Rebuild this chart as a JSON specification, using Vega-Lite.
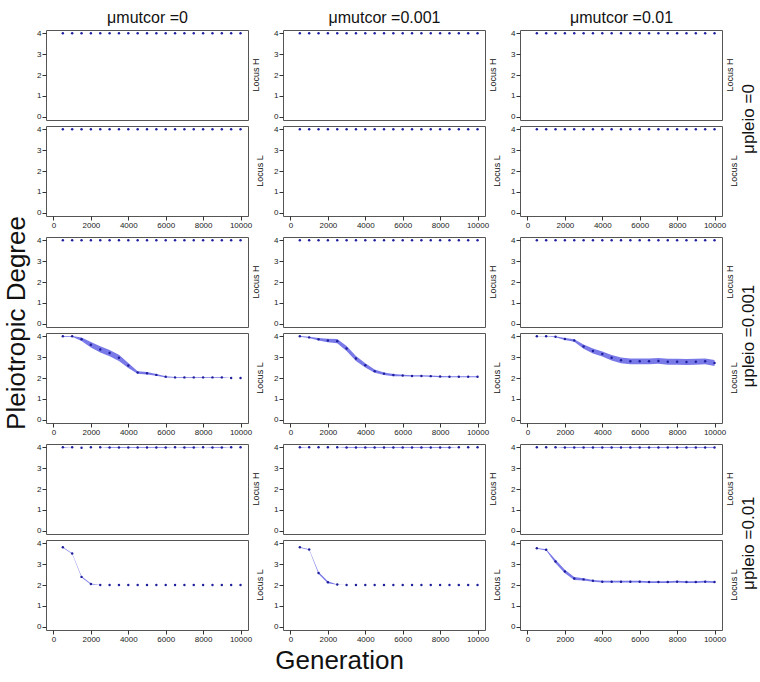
{
"$schema": "https://vega.github.io/schema/vega-lite/v6.json",
"padding": {"left": 4, "top": 8, "right": 3, "bottom": 3},
"title": {"text": "Pleiotropic Degree", "orient": "left", "fontSize": 26, "anchor": "middle", "offset": 6, "dx": 18},
"datasets": {
"p0_m0_H": [{"g":500,"y":4,"lo":4,"hi":4},{"g":1000,"y":4,"lo":4,"hi":4},{"g":1500,"y":4,"lo":4,"hi":4},{"g":2000,"y":4,"lo":4,"hi":4},{"g":2500,"y":4,"lo":4,"hi":4},{"g":3000,"y":4,"lo":4,"hi":4},{"g":3500,"y":4,"lo":4,"hi":4},{"g":4000,"y":4,"lo":4,"hi":4},{"g":4500,"y":4,"lo":4,"hi":4},{"g":5000,"y":4,"lo":4,"hi":4},{"g":5500,"y":4,"lo":4,"hi":4},{"g":6000,"y":4,"lo":4,"hi":4},{"g":6500,"y":4,"lo":4,"hi":4},{"g":7000,"y":4,"lo":4,"hi":4},{"g":7500,"y":4,"lo":4,"hi":4},{"g":8000,"y":4,"lo":4,"hi":4},{"g":8500,"y":4,"lo":4,"hi":4},{"g":9000,"y":4,"lo":4,"hi":4},{"g":9500,"y":4,"lo":4,"hi":4},{"g":10000,"y":4,"lo":4,"hi":4}],
"p0_m0_L": [{"g":500,"y":4,"lo":4,"hi":4},{"g":1000,"y":4,"lo":4,"hi":4},{"g":1500,"y":4,"lo":4,"hi":4},{"g":2000,"y":4,"lo":4,"hi":4},{"g":2500,"y":4,"lo":4,"hi":4},{"g":3000,"y":4,"lo":4,"hi":4},{"g":3500,"y":4,"lo":4,"hi":4},{"g":4000,"y":4,"lo":4,"hi":4},{"g":4500,"y":4,"lo":4,"hi":4},{"g":5000,"y":4,"lo":4,"hi":4},{"g":5500,"y":4,"lo":4,"hi":4},{"g":6000,"y":4,"lo":4,"hi":4},{"g":6500,"y":4,"lo":4,"hi":4},{"g":7000,"y":4,"lo":4,"hi":4},{"g":7500,"y":4,"lo":4,"hi":4},{"g":8000,"y":4,"lo":4,"hi":4},{"g":8500,"y":4,"lo":4,"hi":4},{"g":9000,"y":4,"lo":4,"hi":4},{"g":9500,"y":4,"lo":4,"hi":4},{"g":10000,"y":4,"lo":4,"hi":4}],
"p0_m1_H": [{"g":500,"y":4,"lo":4,"hi":4},{"g":1000,"y":4,"lo":4,"hi":4},{"g":1500,"y":4,"lo":4,"hi":4},{"g":2000,"y":4,"lo":4,"hi":4},{"g":2500,"y":4,"lo":4,"hi":4},{"g":3000,"y":4,"lo":4,"hi":4},{"g":3500,"y":4,"lo":4,"hi":4},{"g":4000,"y":4,"lo":4,"hi":4},{"g":4500,"y":4,"lo":4,"hi":4},{"g":5000,"y":4,"lo":4,"hi":4},{"g":5500,"y":4,"lo":4,"hi":4},{"g":6000,"y":4,"lo":4,"hi":4},{"g":6500,"y":4,"lo":4,"hi":4},{"g":7000,"y":4,"lo":4,"hi":4},{"g":7500,"y":4,"lo":4,"hi":4},{"g":8000,"y":4,"lo":4,"hi":4},{"g":8500,"y":4,"lo":4,"hi":4},{"g":9000,"y":4,"lo":4,"hi":4},{"g":9500,"y":4,"lo":4,"hi":4},{"g":10000,"y":4,"lo":4,"hi":4}],
"p0_m1_L": [{"g":500,"y":4,"lo":4,"hi":4},{"g":1000,"y":4,"lo":4,"hi":4},{"g":1500,"y":4,"lo":4,"hi":4},{"g":2000,"y":4,"lo":4,"hi":4},{"g":2500,"y":4,"lo":4,"hi":4},{"g":3000,"y":4,"lo":4,"hi":4},{"g":3500,"y":4,"lo":4,"hi":4},{"g":4000,"y":4,"lo":4,"hi":4},{"g":4500,"y":4,"lo":4,"hi":4},{"g":5000,"y":4,"lo":4,"hi":4},{"g":5500,"y":4,"lo":4,"hi":4},{"g":6000,"y":4,"lo":4,"hi":4},{"g":6500,"y":4,"lo":4,"hi":4},{"g":7000,"y":4,"lo":4,"hi":4},{"g":7500,"y":4,"lo":4,"hi":4},{"g":8000,"y":4,"lo":4,"hi":4},{"g":8500,"y":4,"lo":4,"hi":4},{"g":9000,"y":4,"lo":4,"hi":4},{"g":9500,"y":4,"lo":4,"hi":4},{"g":10000,"y":4,"lo":4,"hi":4}],
"p0_m2_H": [{"g":500,"y":4,"lo":4,"hi":4},{"g":1000,"y":4,"lo":4,"hi":4},{"g":1500,"y":4,"lo":4,"hi":4},{"g":2000,"y":4,"lo":4,"hi":4},{"g":2500,"y":4,"lo":4,"hi":4},{"g":3000,"y":4,"lo":4,"hi":4},{"g":3500,"y":4,"lo":4,"hi":4},{"g":4000,"y":4,"lo":4,"hi":4},{"g":4500,"y":4,"lo":4,"hi":4},{"g":5000,"y":4,"lo":4,"hi":4},{"g":5500,"y":4,"lo":4,"hi":4},{"g":6000,"y":4,"lo":4,"hi":4},{"g":6500,"y":4,"lo":4,"hi":4},{"g":7000,"y":4,"lo":4,"hi":4},{"g":7500,"y":4,"lo":4,"hi":4},{"g":8000,"y":4,"lo":4,"hi":4},{"g":8500,"y":4,"lo":4,"hi":4},{"g":9000,"y":4,"lo":4,"hi":4},{"g":9500,"y":4,"lo":4,"hi":4},{"g":10000,"y":4,"lo":4,"hi":4}],
"p0_m2_L": [{"g":500,"y":4,"lo":4,"hi":4},{"g":1000,"y":4,"lo":4,"hi":4},{"g":1500,"y":4,"lo":4,"hi":4},{"g":2000,"y":4,"lo":4,"hi":4},{"g":2500,"y":4,"lo":4,"hi":4},{"g":3000,"y":4,"lo":4,"hi":4},{"g":3500,"y":4,"lo":4,"hi":4},{"g":4000,"y":4,"lo":4,"hi":4},{"g":4500,"y":4,"lo":4,"hi":4},{"g":5000,"y":4,"lo":4,"hi":4},{"g":5500,"y":4,"lo":4,"hi":4},{"g":6000,"y":4,"lo":4,"hi":4},{"g":6500,"y":4,"lo":4,"hi":4},{"g":7000,"y":4,"lo":4,"hi":4},{"g":7500,"y":4,"lo":4,"hi":4},{"g":8000,"y":4,"lo":4,"hi":4},{"g":8500,"y":4,"lo":4,"hi":4},{"g":9000,"y":4,"lo":4,"hi":4},{"g":9500,"y":4,"lo":4,"hi":4},{"g":10000,"y":4,"lo":4,"hi":4}],
"p1_m0_H": [{"g":500,"y":4,"lo":4,"hi":4},{"g":1000,"y":4,"lo":4,"hi":4},{"g":1500,"y":4,"lo":4,"hi":4},{"g":2000,"y":4,"lo":4,"hi":4},{"g":2500,"y":4,"lo":4,"hi":4},{"g":3000,"y":4,"lo":4,"hi":4},{"g":3500,"y":4,"lo":4,"hi":4},{"g":4000,"y":4,"lo":4,"hi":4},{"g":4500,"y":4,"lo":4,"hi":4},{"g":5000,"y":4,"lo":4,"hi":4},{"g":5500,"y":4,"lo":4,"hi":4},{"g":6000,"y":4,"lo":4,"hi":4},{"g":6500,"y":4,"lo":4,"hi":4},{"g":7000,"y":4,"lo":4,"hi":4},{"g":7500,"y":4,"lo":4,"hi":4},{"g":8000,"y":4,"lo":4,"hi":4},{"g":8500,"y":4,"lo":4,"hi":4},{"g":9000,"y":4,"lo":4,"hi":4},{"g":9500,"y":4,"lo":4,"hi":4},{"g":10000,"y":4,"lo":4,"hi":4}],
"p1_m0_L": [{"g":500,"y":4,"lo":3.98,"hi":4.02},{"g":1000,"y":4,"lo":3.98,"hi":4.02},{"g":1500,"y":3.86,"lo":3.78,"hi":3.94},{"g":2000,"y":3.6,"lo":3.47,"hi":3.73},{"g":2500,"y":3.37,"lo":3.22,"hi":3.52},{"g":3000,"y":3.2,"lo":3.05,"hi":3.35},{"g":3500,"y":2.97,"lo":2.82,"hi":3.12},{"g":4000,"y":2.6,"lo":2.48,"hi":2.72},{"g":4500,"y":2.26,"lo":2.2,"hi":2.32},{"g":5000,"y":2.23,"lo":2.17,"hi":2.29},{"g":5500,"y":2.15,"lo":2.11,"hi":2.19},{"g":6000,"y":2.06,"lo":2.03,"hi":2.09},{"g":6500,"y":2.03,"lo":2.01,"hi":2.05},{"g":7000,"y":2.03,"lo":2.01,"hi":2.05},{"g":7500,"y":2.03,"lo":2.01,"hi":2.05},{"g":8000,"y":2.03,"lo":2.01,"hi":2.05},{"g":8500,"y":2.03,"lo":2.01,"hi":2.05},{"g":9000,"y":2.03,"lo":2.01,"hi":2.05},{"g":9500,"y":2,"lo":2,"hi":2},{"g":10000,"y":2,"lo":2,"hi":2}],
"p1_m1_H": [{"g":500,"y":4,"lo":4,"hi":4},{"g":1000,"y":4,"lo":4,"hi":4},{"g":1500,"y":4,"lo":4,"hi":4},{"g":2000,"y":4,"lo":4,"hi":4},{"g":2500,"y":4,"lo":4,"hi":4},{"g":3000,"y":4,"lo":4,"hi":4},{"g":3500,"y":4,"lo":4,"hi":4},{"g":4000,"y":4,"lo":4,"hi":4},{"g":4500,"y":4,"lo":4,"hi":4},{"g":5000,"y":4,"lo":4,"hi":4},{"g":5500,"y":4,"lo":4,"hi":4},{"g":6000,"y":4,"lo":4,"hi":4},{"g":6500,"y":4,"lo":4,"hi":4},{"g":7000,"y":4,"lo":4,"hi":4},{"g":7500,"y":4,"lo":4,"hi":4},{"g":8000,"y":4,"lo":4,"hi":4},{"g":8500,"y":4,"lo":4,"hi":4},{"g":9000,"y":4,"lo":4,"hi":4},{"g":9500,"y":4,"lo":4,"hi":4},{"g":10000,"y":4,"lo":4,"hi":4}],
"p1_m1_L": [{"g":500,"y":4,"lo":3.98,"hi":4.02},{"g":1000,"y":3.95,"lo":3.92,"hi":3.98},{"g":1500,"y":3.86,"lo":3.8,"hi":3.92},{"g":2000,"y":3.8,"lo":3.72,"hi":3.88},{"g":2500,"y":3.77,"lo":3.67,"hi":3.87},{"g":3000,"y":3.42,"lo":3.3,"hi":3.54},{"g":3500,"y":2.94,"lo":2.82,"hi":3.06},{"g":4000,"y":2.61,"lo":2.51,"hi":2.71},{"g":4500,"y":2.33,"lo":2.25,"hi":2.41},{"g":5000,"y":2.21,"lo":2.15,"hi":2.27},{"g":5500,"y":2.14,"lo":2.09,"hi":2.19},{"g":6000,"y":2.12,"lo":2.08,"hi":2.16},{"g":6500,"y":2.1,"lo":2.07,"hi":2.13},{"g":7000,"y":2.1,"lo":2.07,"hi":2.13},{"g":7500,"y":2.09,"lo":2.06,"hi":2.12},{"g":8000,"y":2.07,"lo":2.04,"hi":2.1},{"g":8500,"y":2.06,"lo":2.04,"hi":2.08},{"g":9000,"y":2.06,"lo":2.04,"hi":2.08},{"g":9500,"y":2.06,"lo":2.04,"hi":2.08},{"g":10000,"y":2.06,"lo":2.04,"hi":2.08}],
"p1_m2_H": [{"g":500,"y":4,"lo":4,"hi":4},{"g":1000,"y":4,"lo":4,"hi":4},{"g":1500,"y":4,"lo":4,"hi":4},{"g":2000,"y":4,"lo":4,"hi":4},{"g":2500,"y":4,"lo":4,"hi":4},{"g":3000,"y":4,"lo":4,"hi":4},{"g":3500,"y":4,"lo":4,"hi":4},{"g":4000,"y":4,"lo":4,"hi":4},{"g":4500,"y":4,"lo":4,"hi":4},{"g":5000,"y":4,"lo":4,"hi":4},{"g":5500,"y":4,"lo":4,"hi":4},{"g":6000,"y":4,"lo":4,"hi":4},{"g":6500,"y":4,"lo":4,"hi":4},{"g":7000,"y":4,"lo":4,"hi":4},{"g":7500,"y":4,"lo":4,"hi":4},{"g":8000,"y":4,"lo":4,"hi":4},{"g":8500,"y":4,"lo":4,"hi":4},{"g":9000,"y":4,"lo":4,"hi":4},{"g":9500,"y":4,"lo":4,"hi":4},{"g":10000,"y":4,"lo":4,"hi":4}],
"p1_m2_L": [{"g":500,"y":4,"lo":3.99,"hi":4.01},{"g":1000,"y":4,"lo":3.99,"hi":4.01},{"g":1500,"y":3.98,"lo":3.96,"hi":4.0},{"g":2000,"y":3.87,"lo":3.82,"hi":3.92},{"g":2500,"y":3.8,"lo":3.74,"hi":3.86},{"g":3000,"y":3.51,"lo":3.41,"hi":3.61},{"g":3500,"y":3.3,"lo":3.18,"hi":3.42},{"g":4000,"y":3.15,"lo":3.03,"hi":3.27},{"g":4500,"y":2.97,"lo":2.84,"hi":3.1},{"g":5000,"y":2.85,"lo":2.71,"hi":2.99},{"g":5500,"y":2.8,"lo":2.66,"hi":2.94},{"g":6000,"y":2.8,"lo":2.66,"hi":2.94},{"g":6500,"y":2.8,"lo":2.66,"hi":2.94},{"g":7000,"y":2.82,"lo":2.68,"hi":2.96},{"g":7500,"y":2.78,"lo":2.64,"hi":2.92},{"g":8000,"y":2.78,"lo":2.64,"hi":2.92},{"g":8500,"y":2.77,"lo":2.63,"hi":2.91},{"g":9000,"y":2.78,"lo":2.64,"hi":2.92},{"g":9500,"y":2.8,"lo":2.66,"hi":2.94},{"g":10000,"y":2.72,"lo":2.58,"hi":2.86}],
"p2_m0_H": [{"g":500,"y":4,"lo":3.98,"hi":4.02},{"g":1000,"y":4,"lo":4,"hi":4},{"g":1500,"y":3.98,"lo":3.98,"hi":3.98},{"g":2000,"y":4,"lo":4,"hi":4},{"g":2500,"y":4,"lo":4,"hi":4},{"g":3000,"y":3.99,"lo":3.97,"hi":4.01},{"g":3500,"y":3.99,"lo":3.97,"hi":4.01},{"g":4000,"y":3.99,"lo":3.97,"hi":4.01},{"g":4500,"y":3.99,"lo":3.97,"hi":4.01},{"g":5000,"y":3.99,"lo":3.97,"hi":4.01},{"g":5500,"y":3.99,"lo":3.97,"hi":4.01},{"g":6000,"y":3.99,"lo":3.97,"hi":4.01},{"g":6500,"y":4,"lo":4,"hi":4},{"g":7000,"y":3.99,"lo":3.97,"hi":4.01},{"g":7500,"y":3.99,"lo":3.97,"hi":4.01},{"g":8000,"y":4,"lo":4,"hi":4},{"g":8500,"y":3.99,"lo":3.97,"hi":4.01},{"g":9000,"y":3.99,"lo":3.97,"hi":4.01},{"g":9500,"y":4,"lo":4,"hi":4},{"g":10000,"y":4,"lo":4,"hi":4}],
"p2_m0_L": [{"g":500,"y":3.81,"lo":3.79,"hi":3.83},{"g":1000,"y":3.51,"lo":3.49,"hi":3.53},{"g":1500,"y":2.39,"lo":2.36,"hi":2.42},{"g":2000,"y":2.05,"lo":2.03,"hi":2.07},{"g":2500,"y":2,"lo":2,"hi":2},{"g":3000,"y":2,"lo":2,"hi":2},{"g":3500,"y":2,"lo":2,"hi":2},{"g":4000,"y":2,"lo":2,"hi":2},{"g":4500,"y":2,"lo":2,"hi":2},{"g":5000,"y":2,"lo":2,"hi":2},{"g":5500,"y":2,"lo":2,"hi":2},{"g":6000,"y":2,"lo":2,"hi":2},{"g":6500,"y":2,"lo":2,"hi":2},{"g":7000,"y":2,"lo":2,"hi":2},{"g":7500,"y":2,"lo":2,"hi":2},{"g":8000,"y":2,"lo":2,"hi":2},{"g":8500,"y":2,"lo":2,"hi":2},{"g":9000,"y":2,"lo":2,"hi":2},{"g":9500,"y":2,"lo":2,"hi":2},{"g":10000,"y":2,"lo":2,"hi":2}],
"p2_m1_H": [{"g":500,"y":4,"lo":3.98,"hi":4.02},{"g":1000,"y":4,"lo":4,"hi":4},{"g":1500,"y":4,"lo":4,"hi":4},{"g":2000,"y":4,"lo":4,"hi":4},{"g":2500,"y":4,"lo":4,"hi":4},{"g":3000,"y":3.99,"lo":3.97,"hi":4.01},{"g":3500,"y":3.99,"lo":3.97,"hi":4.01},{"g":4000,"y":3.99,"lo":3.97,"hi":4.01},{"g":4500,"y":3.99,"lo":3.97,"hi":4.01},{"g":5000,"y":3.99,"lo":3.97,"hi":4.01},{"g":5500,"y":3.99,"lo":3.97,"hi":4.01},{"g":6000,"y":3.99,"lo":3.97,"hi":4.01},{"g":6500,"y":3.99,"lo":3.97,"hi":4.01},{"g":7000,"y":3.99,"lo":3.97,"hi":4.01},{"g":7500,"y":3.99,"lo":3.97,"hi":4.01},{"g":8000,"y":3.99,"lo":3.97,"hi":4.01},{"g":8500,"y":3.99,"lo":3.97,"hi":4.01},{"g":9000,"y":4,"lo":4,"hi":4},{"g":9500,"y":4,"lo":4,"hi":4},{"g":10000,"y":4,"lo":4,"hi":4}],
"p2_m1_L": [{"g":500,"y":3.81,"lo":3.79,"hi":3.83},{"g":1000,"y":3.7,"lo":3.68,"hi":3.72},{"g":1500,"y":2.58,"lo":2.53,"hi":2.63},{"g":2000,"y":2.13,"lo":2.08,"hi":2.18},{"g":2500,"y":2.02,"lo":2.01,"hi":2.03},{"g":3000,"y":2,"lo":2,"hi":2},{"g":3500,"y":2,"lo":2,"hi":2},{"g":4000,"y":2,"lo":2,"hi":2},{"g":4500,"y":2,"lo":2,"hi":2},{"g":5000,"y":2,"lo":2,"hi":2},{"g":5500,"y":2,"lo":2,"hi":2},{"g":6000,"y":2,"lo":2,"hi":2},{"g":6500,"y":2,"lo":2,"hi":2},{"g":7000,"y":2,"lo":2,"hi":2},{"g":7500,"y":2,"lo":2,"hi":2},{"g":8000,"y":2,"lo":2,"hi":2},{"g":8500,"y":2,"lo":2,"hi":2},{"g":9000,"y":2,"lo":2,"hi":2},{"g":9500,"y":2,"lo":2,"hi":2},{"g":10000,"y":2,"lo":2,"hi":2}],
"p2_m2_H": [{"g":500,"y":4,"lo":4,"hi":4},{"g":1000,"y":4,"lo":4,"hi":4},{"g":1500,"y":4,"lo":4,"hi":4},{"g":2000,"y":3.99,"lo":3.97,"hi":4.01},{"g":2500,"y":3.99,"lo":3.97,"hi":4.01},{"g":3000,"y":3.99,"lo":3.97,"hi":4.01},{"g":3500,"y":3.99,"lo":3.97,"hi":4.01},{"g":4000,"y":3.99,"lo":3.97,"hi":4.01},{"g":4500,"y":3.99,"lo":3.97,"hi":4.01},{"g":5000,"y":3.99,"lo":3.97,"hi":4.01},{"g":5500,"y":3.99,"lo":3.97,"hi":4.01},{"g":6000,"y":3.99,"lo":3.97,"hi":4.01},{"g":6500,"y":3.99,"lo":3.97,"hi":4.01},{"g":7000,"y":3.99,"lo":3.97,"hi":4.01},{"g":7500,"y":3.99,"lo":3.97,"hi":4.01},{"g":8000,"y":3.99,"lo":3.97,"hi":4.01},{"g":8500,"y":3.99,"lo":3.97,"hi":4.01},{"g":9000,"y":3.99,"lo":3.97,"hi":4.01},{"g":9500,"y":3.99,"lo":3.97,"hi":4.01},{"g":10000,"y":3.99,"lo":3.97,"hi":4.01}],
"p2_m2_L": [{"g":500,"y":3.76,"lo":3.74,"hi":3.78},{"g":1000,"y":3.69,"lo":3.66,"hi":3.72},{"g":1500,"y":3.13,"lo":3.05,"hi":3.21},{"g":2000,"y":2.65,"lo":2.57,"hi":2.73},{"g":2500,"y":2.31,"lo":2.24,"hi":2.38},{"g":3000,"y":2.27,"lo":2.22,"hi":2.32},{"g":3500,"y":2.2,"lo":2.16,"hi":2.24},{"g":4000,"y":2.16,"lo":2.12,"hi":2.2},{"g":4500,"y":2.16,"lo":2.12,"hi":2.2},{"g":5000,"y":2.16,"lo":2.12,"hi":2.2},{"g":5500,"y":2.16,"lo":2.12,"hi":2.2},{"g":6000,"y":2.16,"lo":2.12,"hi":2.2},{"g":6500,"y":2.14,"lo":2.1,"hi":2.18},{"g":7000,"y":2.14,"lo":2.1,"hi":2.18},{"g":7500,"y":2.14,"lo":2.1,"hi":2.18},{"g":8000,"y":2.16,"lo":2.12,"hi":2.2},{"g":8500,"y":2.14,"lo":2.1,"hi":2.18},{"g":9000,"y":2.14,"lo":2.1,"hi":2.18},{"g":9500,"y":2.16,"lo":2.12,"hi":2.2},{"g":10000,"y":2.14,"lo":2.1,"hi":2.18}]
},
"spacing": 5,
"vconcat": [
 {"title": {"text": "μpleio =0", "orient": "right", "angle": -90, "baseline": "bottom", "fontSize": 17, "offset": 2}, "bounds": "flush", "columns": 3, "spacing": {"row": 6, "column": 35}, "concat": [
   {"width": 202, "height": 90, "data": {"name": "p0_m0_H"}, "title": {"text": "Locus H", "orient": "right", "angle": -90, "baseline": "bottom", "fontSize": 9, "offset": 4},
    "layer": [
     {"mark": {"type": "area", "color": "#6a6ae6", "opacity": 0.9}, "encoding": {"x": {"field": "g", "type": "quantitative", "scale": {"domain": [-400, 10400], "nice": false, "zero": false}, "axis": {"orient": "top", "title": "μmutcor =0", "labels": false, "ticks": false, "titleFontSize": 16, "titleFontWeight": "normal", "titlePadding": 5, "titleColor": "#111111"}}, "y": {"field": "lo", "type": "quantitative", "scale": {"domain": [-0.16, 4.16], "nice": false, "zero": false}, "axis": {"values": [0, 1, 2, 3, 4], "title": null}}, "y2": {"field": "hi"}}},
     {"mark": {"type": "circle", "size": 6, "color": "#1f1f9e", "opacity": 1}, "encoding": {"x": {"field": "g", "type": "quantitative", "axis": {"orient": "top", "title": "μmutcor =0", "labels": false, "ticks": false, "titleFontSize": 16, "titleFontWeight": "normal", "titlePadding": 5, "titleColor": "#111111"}}, "y": {"field": "y", "type": "quantitative", "axis": {"values": [0, 1, 2, 3, 4], "title": null}}}}
    ]},
   {"width": 202, "height": 90, "data": {"name": "p0_m1_H"}, "title": {"text": "Locus H", "orient": "right", "angle": -90, "baseline": "bottom", "fontSize": 9, "offset": 4},
    "layer": [
     {"mark": {"type": "area", "color": "#6a6ae6", "opacity": 0.9}, "encoding": {"x": {"field": "g", "type": "quantitative", "scale": {"domain": [-400, 10400], "nice": false, "zero": false}, "axis": {"orient": "top", "title": "μmutcor =0.001", "labels": false, "ticks": false, "titleFontSize": 16, "titleFontWeight": "normal", "titlePadding": 5, "titleColor": "#111111"}}, "y": {"field": "lo", "type": "quantitative", "scale": {"domain": [-0.16, 4.16], "nice": false, "zero": false}, "axis": {"values": [0, 1, 2, 3, 4], "title": null}}, "y2": {"field": "hi"}}},
     {"mark": {"type": "circle", "size": 6, "color": "#1f1f9e", "opacity": 1}, "encoding": {"x": {"field": "g", "type": "quantitative", "axis": {"orient": "top", "title": "μmutcor =0.001", "labels": false, "ticks": false, "titleFontSize": 16, "titleFontWeight": "normal", "titlePadding": 5, "titleColor": "#111111"}}, "y": {"field": "y", "type": "quantitative", "axis": {"values": [0, 1, 2, 3, 4], "title": null}}}}
    ]},
   {"width": 202, "height": 90, "data": {"name": "p0_m2_H"}, "title": {"text": "Locus H", "orient": "right", "angle": -90, "baseline": "bottom", "fontSize": 9, "offset": 4},
    "layer": [
     {"mark": {"type": "area", "color": "#6a6ae6", "opacity": 0.9}, "encoding": {"x": {"field": "g", "type": "quantitative", "scale": {"domain": [-400, 10400], "nice": false, "zero": false}, "axis": {"orient": "top", "title": "μmutcor =0.01", "labels": false, "ticks": false, "titleFontSize": 16, "titleFontWeight": "normal", "titlePadding": 5, "titleColor": "#111111"}}, "y": {"field": "lo", "type": "quantitative", "scale": {"domain": [-0.16, 4.16], "nice": false, "zero": false}, "axis": {"values": [0, 1, 2, 3, 4], "title": null}}, "y2": {"field": "hi"}}},
     {"mark": {"type": "circle", "size": 6, "color": "#1f1f9e", "opacity": 1}, "encoding": {"x": {"field": "g", "type": "quantitative", "axis": {"orient": "top", "title": "μmutcor =0.01", "labels": false, "ticks": false, "titleFontSize": 16, "titleFontWeight": "normal", "titlePadding": 5, "titleColor": "#111111"}}, "y": {"field": "y", "type": "quantitative", "axis": {"values": [0, 1, 2, 3, 4], "title": null}}}}
    ]},
   {"width": 202, "height": 90, "data": {"name": "p0_m0_L"}, "title": {"text": "Locus L", "orient": "right", "angle": -90, "baseline": "bottom", "fontSize": 9, "offset": 4},
    "layer": [
     {"mark": {"type": "area", "color": "#6a6ae6", "opacity": 0.9}, "encoding": {"x": {"field": "g", "type": "quantitative", "scale": {"domain": [-400, 10400], "nice": false, "zero": false}, "axis": {"values": [0, 2000, 4000, 6000, 8000, 10000], "format": "d", "title": null}}, "y": {"field": "lo", "type": "quantitative", "scale": {"domain": [-0.16, 4.16], "nice": false, "zero": false}, "axis": {"values": [0, 1, 2, 3, 4], "title": null}}, "y2": {"field": "hi"}}},
     {"mark": {"type": "circle", "size": 6, "color": "#1f1f9e", "opacity": 1}, "encoding": {"x": {"field": "g", "type": "quantitative", "axis": {"values": [0, 2000, 4000, 6000, 8000, 10000], "format": "d", "title": null}}, "y": {"field": "y", "type": "quantitative", "axis": {"values": [0, 1, 2, 3, 4], "title": null}}}}
    ]},
   {"width": 202, "height": 90, "data": {"name": "p0_m1_L"}, "title": {"text": "Locus L", "orient": "right", "angle": -90, "baseline": "bottom", "fontSize": 9, "offset": 4},
    "layer": [
     {"mark": {"type": "area", "color": "#6a6ae6", "opacity": 0.9}, "encoding": {"x": {"field": "g", "type": "quantitative", "scale": {"domain": [-400, 10400], "nice": false, "zero": false}, "axis": {"values": [0, 2000, 4000, 6000, 8000, 10000], "format": "d", "title": null}}, "y": {"field": "lo", "type": "quantitative", "scale": {"domain": [-0.16, 4.16], "nice": false, "zero": false}, "axis": {"values": [0, 1, 2, 3, 4], "title": null}}, "y2": {"field": "hi"}}},
     {"mark": {"type": "circle", "size": 6, "color": "#1f1f9e", "opacity": 1}, "encoding": {"x": {"field": "g", "type": "quantitative", "axis": {"values": [0, 2000, 4000, 6000, 8000, 10000], "format": "d", "title": null}}, "y": {"field": "y", "type": "quantitative", "axis": {"values": [0, 1, 2, 3, 4], "title": null}}}}
    ]},
   {"width": 202, "height": 90, "data": {"name": "p0_m2_L"}, "title": {"text": "Locus L", "orient": "right", "angle": -90, "baseline": "bottom", "fontSize": 9, "offset": 4},
    "layer": [
     {"mark": {"type": "area", "color": "#6a6ae6", "opacity": 0.9}, "encoding": {"x": {"field": "g", "type": "quantitative", "scale": {"domain": [-400, 10400], "nice": false, "zero": false}, "axis": {"values": [0, 2000, 4000, 6000, 8000, 10000], "format": "d", "title": null}}, "y": {"field": "lo", "type": "quantitative", "scale": {"domain": [-0.16, 4.16], "nice": false, "zero": false}, "axis": {"values": [0, 1, 2, 3, 4], "title": null}}, "y2": {"field": "hi"}}},
     {"mark": {"type": "circle", "size": 6, "color": "#1f1f9e", "opacity": 1}, "encoding": {"x": {"field": "g", "type": "quantitative", "axis": {"values": [0, 2000, 4000, 6000, 8000, 10000], "format": "d", "title": null}}, "y": {"field": "y", "type": "quantitative", "axis": {"values": [0, 1, 2, 3, 4], "title": null}}}}
    ]}
 ]},
 {"title": {"text": "μpleio =0.001", "orient": "right", "angle": -90, "baseline": "bottom", "fontSize": 17, "offset": 2}, "bounds": "flush", "columns": 3, "spacing": {"row": 6, "column": 35}, "concat": [
   {"width": 202, "height": 90, "data": {"name": "p1_m0_H"}, "title": {"text": "Locus H", "orient": "right", "angle": -90, "baseline": "bottom", "fontSize": 9, "offset": 4},
    "layer": [
     {"mark": {"type": "area", "color": "#6a6ae6", "opacity": 0.9}, "encoding": {"x": {"field": "g", "type": "quantitative", "scale": {"domain": [-400, 10400], "nice": false, "zero": false}, "axis": null}, "y": {"field": "lo", "type": "quantitative", "scale": {"domain": [-0.16, 4.16], "nice": false, "zero": false}, "axis": {"values": [0, 1, 2, 3, 4], "title": null}}, "y2": {"field": "hi"}}},
     {"mark": {"type": "circle", "size": 6, "color": "#1f1f9e", "opacity": 1}, "encoding": {"x": {"field": "g", "type": "quantitative", "axis": null}, "y": {"field": "y", "type": "quantitative", "axis": {"values": [0, 1, 2, 3, 4], "title": null}}}}
    ]},
   {"width": 202, "height": 90, "data": {"name": "p1_m1_H"}, "title": {"text": "Locus H", "orient": "right", "angle": -90, "baseline": "bottom", "fontSize": 9, "offset": 4},
    "layer": [
     {"mark": {"type": "area", "color": "#6a6ae6", "opacity": 0.9}, "encoding": {"x": {"field": "g", "type": "quantitative", "scale": {"domain": [-400, 10400], "nice": false, "zero": false}, "axis": null}, "y": {"field": "lo", "type": "quantitative", "scale": {"domain": [-0.16, 4.16], "nice": false, "zero": false}, "axis": {"values": [0, 1, 2, 3, 4], "title": null}}, "y2": {"field": "hi"}}},
     {"mark": {"type": "circle", "size": 6, "color": "#1f1f9e", "opacity": 1}, "encoding": {"x": {"field": "g", "type": "quantitative", "axis": null}, "y": {"field": "y", "type": "quantitative", "axis": {"values": [0, 1, 2, 3, 4], "title": null}}}}
    ]},
   {"width": 202, "height": 90, "data": {"name": "p1_m2_H"}, "title": {"text": "Locus H", "orient": "right", "angle": -90, "baseline": "bottom", "fontSize": 9, "offset": 4},
    "layer": [
     {"mark": {"type": "area", "color": "#6a6ae6", "opacity": 0.9}, "encoding": {"x": {"field": "g", "type": "quantitative", "scale": {"domain": [-400, 10400], "nice": false, "zero": false}, "axis": null}, "y": {"field": "lo", "type": "quantitative", "scale": {"domain": [-0.16, 4.16], "nice": false, "zero": false}, "axis": {"values": [0, 1, 2, 3, 4], "title": null}}, "y2": {"field": "hi"}}},
     {"mark": {"type": "circle", "size": 6, "color": "#1f1f9e", "opacity": 1}, "encoding": {"x": {"field": "g", "type": "quantitative", "axis": null}, "y": {"field": "y", "type": "quantitative", "axis": {"values": [0, 1, 2, 3, 4], "title": null}}}}
    ]},
   {"width": 202, "height": 90, "data": {"name": "p1_m0_L"}, "title": {"text": "Locus L", "orient": "right", "angle": -90, "baseline": "bottom", "fontSize": 9, "offset": 4},
    "layer": [
     {"mark": {"type": "area", "color": "#6a6ae6", "opacity": 0.9}, "encoding": {"x": {"field": "g", "type": "quantitative", "scale": {"domain": [-400, 10400], "nice": false, "zero": false}, "axis": {"values": [0, 2000, 4000, 6000, 8000, 10000], "format": "d", "title": null}}, "y": {"field": "lo", "type": "quantitative", "scale": {"domain": [-0.16, 4.16], "nice": false, "zero": false}, "axis": {"values": [0, 1, 2, 3, 4], "title": null}}, "y2": {"field": "hi"}}},
     {"mark": {"type": "circle", "size": 6, "color": "#1f1f9e", "opacity": 1}, "encoding": {"x": {"field": "g", "type": "quantitative", "axis": {"values": [0, 2000, 4000, 6000, 8000, 10000], "format": "d", "title": null}}, "y": {"field": "y", "type": "quantitative", "axis": {"values": [0, 1, 2, 3, 4], "title": null}}}}
    ]},
   {"width": 202, "height": 90, "data": {"name": "p1_m1_L"}, "title": {"text": "Locus L", "orient": "right", "angle": -90, "baseline": "bottom", "fontSize": 9, "offset": 4},
    "layer": [
     {"mark": {"type": "area", "color": "#6a6ae6", "opacity": 0.9}, "encoding": {"x": {"field": "g", "type": "quantitative", "scale": {"domain": [-400, 10400], "nice": false, "zero": false}, "axis": {"values": [0, 2000, 4000, 6000, 8000, 10000], "format": "d", "title": null}}, "y": {"field": "lo", "type": "quantitative", "scale": {"domain": [-0.16, 4.16], "nice": false, "zero": false}, "axis": {"values": [0, 1, 2, 3, 4], "title": null}}, "y2": {"field": "hi"}}},
     {"mark": {"type": "circle", "size": 6, "color": "#1f1f9e", "opacity": 1}, "encoding": {"x": {"field": "g", "type": "quantitative", "axis": {"values": [0, 2000, 4000, 6000, 8000, 10000], "format": "d", "title": null}}, "y": {"field": "y", "type": "quantitative", "axis": {"values": [0, 1, 2, 3, 4], "title": null}}}}
    ]},
   {"width": 202, "height": 90, "data": {"name": "p1_m2_L"}, "title": {"text": "Locus L", "orient": "right", "angle": -90, "baseline": "bottom", "fontSize": 9, "offset": 4},
    "layer": [
     {"mark": {"type": "area", "color": "#6a6ae6", "opacity": 0.9}, "encoding": {"x": {"field": "g", "type": "quantitative", "scale": {"domain": [-400, 10400], "nice": false, "zero": false}, "axis": {"values": [0, 2000, 4000, 6000, 8000, 10000], "format": "d", "title": null}}, "y": {"field": "lo", "type": "quantitative", "scale": {"domain": [-0.16, 4.16], "nice": false, "zero": false}, "axis": {"values": [0, 1, 2, 3, 4], "title": null}}, "y2": {"field": "hi"}}},
     {"mark": {"type": "circle", "size": 6, "color": "#1f1f9e", "opacity": 1}, "encoding": {"x": {"field": "g", "type": "quantitative", "axis": {"values": [0, 2000, 4000, 6000, 8000, 10000], "format": "d", "title": null}}, "y": {"field": "y", "type": "quantitative", "axis": {"values": [0, 1, 2, 3, 4], "title": null}}}}
    ]}
 ]},
 {"title": {"text": "Generation", "orient": "bottom", "fontSize": 26, "offset": 4, "dx": -57}, "vconcat": [
 {"title": {"text": "μpleio =0.01", "orient": "right", "angle": -90, "baseline": "bottom", "fontSize": 17, "offset": 2}, "bounds": "flush", "columns": 3, "spacing": {"row": 6, "column": 35}, "concat": [
   {"width": 202, "height": 90, "data": {"name": "p2_m0_H"}, "title": {"text": "Locus H", "orient": "right", "angle": -90, "baseline": "bottom", "fontSize": 9, "offset": 4},
    "layer": [
     {"mark": {"type": "area", "color": "#6a6ae6", "opacity": 0.9}, "encoding": {"x": {"field": "g", "type": "quantitative", "scale": {"domain": [-400, 10400], "nice": false, "zero": false}, "axis": null}, "y": {"field": "lo", "type": "quantitative", "scale": {"domain": [-0.16, 4.16], "nice": false, "zero": false}, "axis": {"values": [0, 1, 2, 3, 4], "title": null}}, "y2": {"field": "hi"}}},
     {"mark": {"type": "circle", "size": 6, "color": "#1f1f9e", "opacity": 1}, "encoding": {"x": {"field": "g", "type": "quantitative", "axis": null}, "y": {"field": "y", "type": "quantitative", "axis": {"values": [0, 1, 2, 3, 4], "title": null}}}}
    ]},
   {"width": 202, "height": 90, "data": {"name": "p2_m1_H"}, "title": {"text": "Locus H", "orient": "right", "angle": -90, "baseline": "bottom", "fontSize": 9, "offset": 4},
    "layer": [
     {"mark": {"type": "area", "color": "#6a6ae6", "opacity": 0.9}, "encoding": {"x": {"field": "g", "type": "quantitative", "scale": {"domain": [-400, 10400], "nice": false, "zero": false}, "axis": null}, "y": {"field": "lo", "type": "quantitative", "scale": {"domain": [-0.16, 4.16], "nice": false, "zero": false}, "axis": {"values": [0, 1, 2, 3, 4], "title": null}}, "y2": {"field": "hi"}}},
     {"mark": {"type": "circle", "size": 6, "color": "#1f1f9e", "opacity": 1}, "encoding": {"x": {"field": "g", "type": "quantitative", "axis": null}, "y": {"field": "y", "type": "quantitative", "axis": {"values": [0, 1, 2, 3, 4], "title": null}}}}
    ]},
   {"width": 202, "height": 90, "data": {"name": "p2_m2_H"}, "title": {"text": "Locus H", "orient": "right", "angle": -90, "baseline": "bottom", "fontSize": 9, "offset": 4},
    "layer": [
     {"mark": {"type": "area", "color": "#6a6ae6", "opacity": 0.9}, "encoding": {"x": {"field": "g", "type": "quantitative", "scale": {"domain": [-400, 10400], "nice": false, "zero": false}, "axis": null}, "y": {"field": "lo", "type": "quantitative", "scale": {"domain": [-0.16, 4.16], "nice": false, "zero": false}, "axis": {"values": [0, 1, 2, 3, 4], "title": null}}, "y2": {"field": "hi"}}},
     {"mark": {"type": "circle", "size": 6, "color": "#1f1f9e", "opacity": 1}, "encoding": {"x": {"field": "g", "type": "quantitative", "axis": null}, "y": {"field": "y", "type": "quantitative", "axis": {"values": [0, 1, 2, 3, 4], "title": null}}}}
    ]},
   {"width": 202, "height": 90, "data": {"name": "p2_m0_L"}, "title": {"text": "Locus L", "orient": "right", "angle": -90, "baseline": "bottom", "fontSize": 9, "offset": 4},
    "layer": [
     {"mark": {"type": "area", "color": "#6a6ae6", "opacity": 0.9}, "encoding": {"x": {"field": "g", "type": "quantitative", "scale": {"domain": [-400, 10400], "nice": false, "zero": false}, "axis": {"values": [0, 2000, 4000, 6000, 8000, 10000], "format": "d", "title": null}}, "y": {"field": "lo", "type": "quantitative", "scale": {"domain": [-0.16, 4.16], "nice": false, "zero": false}, "axis": {"values": [0, 1, 2, 3, 4], "title": null}}, "y2": {"field": "hi"}}},
     {"mark": {"type": "circle", "size": 6, "color": "#1f1f9e", "opacity": 1}, "encoding": {"x": {"field": "g", "type": "quantitative", "axis": {"values": [0, 2000, 4000, 6000, 8000, 10000], "format": "d", "title": null}}, "y": {"field": "y", "type": "quantitative", "axis": {"values": [0, 1, 2, 3, 4], "title": null}}}}
    ]},
   {"width": 202, "height": 90, "data": {"name": "p2_m1_L"}, "title": {"text": "Locus L", "orient": "right", "angle": -90, "baseline": "bottom", "fontSize": 9, "offset": 4},
    "layer": [
     {"mark": {"type": "area", "color": "#6a6ae6", "opacity": 0.9}, "encoding": {"x": {"field": "g", "type": "quantitative", "scale": {"domain": [-400, 10400], "nice": false, "zero": false}, "axis": {"values": [0, 2000, 4000, 6000, 8000, 10000], "format": "d", "title": null}}, "y": {"field": "lo", "type": "quantitative", "scale": {"domain": [-0.16, 4.16], "nice": false, "zero": false}, "axis": {"values": [0, 1, 2, 3, 4], "title": null}}, "y2": {"field": "hi"}}},
     {"mark": {"type": "circle", "size": 6, "color": "#1f1f9e", "opacity": 1}, "encoding": {"x": {"field": "g", "type": "quantitative", "axis": {"values": [0, 2000, 4000, 6000, 8000, 10000], "format": "d", "title": null}}, "y": {"field": "y", "type": "quantitative", "axis": {"values": [0, 1, 2, 3, 4], "title": null}}}}
    ]},
   {"width": 202, "height": 90, "data": {"name": "p2_m2_L"}, "title": {"text": "Locus L", "orient": "right", "angle": -90, "baseline": "bottom", "fontSize": 9, "offset": 4},
    "layer": [
     {"mark": {"type": "area", "color": "#6a6ae6", "opacity": 0.9}, "encoding": {"x": {"field": "g", "type": "quantitative", "scale": {"domain": [-400, 10400], "nice": false, "zero": false}, "axis": {"values": [0, 2000, 4000, 6000, 8000, 10000], "format": "d", "title": null}}, "y": {"field": "lo", "type": "quantitative", "scale": {"domain": [-0.16, 4.16], "nice": false, "zero": false}, "axis": {"values": [0, 1, 2, 3, 4], "title": null}}, "y2": {"field": "hi"}}},
     {"mark": {"type": "circle", "size": 6, "color": "#1f1f9e", "opacity": 1}, "encoding": {"x": {"field": "g", "type": "quantitative", "axis": {"values": [0, 2000, 4000, 6000, 8000, 10000], "format": "d", "title": null}}, "y": {"field": "y", "type": "quantitative", "axis": {"values": [0, 1, 2, 3, 4], "title": null}}}}
    ]}
 ]}
 ]}
],
"config": {
 "font": "Liberation Sans",
 "view": {"stroke": "#555555", "strokeWidth": 1},
 "axis": {"domain": false, "grid": false, "tickSize": 4, "tickColor": "#333333", "labelFontSize": 8, "labelColor": "#222222", "labelPadding": 1, "labelFont": "Liberation Sans"},
 "title": {"fontWeight": "normal", "color": "#111111", "font": "Liberation Sans", "anchor": "middle"}
}
}
